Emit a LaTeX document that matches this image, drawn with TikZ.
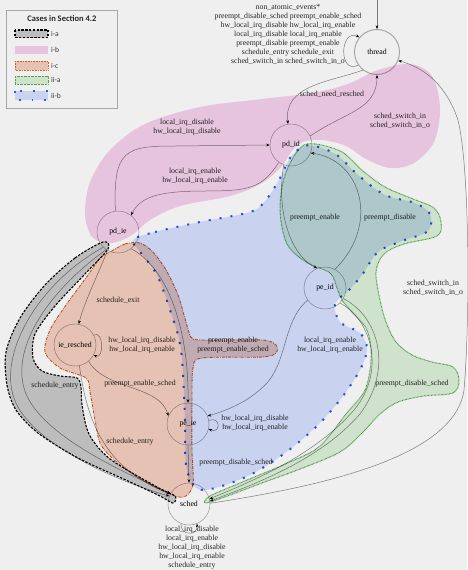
\documentclass[tikz,border=0pt]{standalone}
\usepackage{fontspec}
\setmainfont{Liberation Serif}
\newfontfamily\legfont{Carlito}
\usetikzlibrary{arrows.meta}
\definecolor{bgc}{HTML}{EFEFEF}
\definecolor{pinkM}{HTML}{F7D2EC}
\definecolor{grayM}{HTML}{CACACA}
\definecolor{orangeM}{HTML}{F5D0BF}
\definecolor{greenM}{HTML}{DDF2D9}
\definecolor{blueM}{HTML}{D7E1FF}
\definecolor{pinkL}{HTML}{E8C5DD}
\definecolor{grayL}{HTML}{BDBDBD}
\definecolor{orangeL}{HTML}{E5C3B3}
\definecolor{greenL}{HTML}{CFE3CB}
\definecolor{blueL}{HTML}{CAD3EF}
\definecolor{orangeB}{HTML}{D2642E}
\definecolor{greenB}{HTML}{4FA64A}
\definecolor{blueB}{HTML}{2A5CEB}
\definecolor{edgec}{HTML}{7A7A7A}
\begin{document}
\begin{tikzpicture}[x=1pt,y=-1pt,
  st/.style={circle, draw=edgec!80, line width=0.5pt, minimum size=42pt, inner sep=0pt, font=\fontsize{7.8}{9}\selectfont},
  tr/.style={draw=edgec, line width=0.5pt, -{Stealth[length=3.6pt,width=2.8pt,black]}},
  lab/.style={font=\fontsize{7.8}{9}\selectfont, align=center, inner sep=0pt, text=black!85},
  regA/.style={fill=grayM, draw=black, line width=1.1pt, dash pattern=on 2.4pt off 1.4pt},
  regB/.style={fill=pinkM},
  regC/.style={fill=orangeM, draw=orangeB, line width=0.9pt, dash pattern=on 3pt off 1.2pt on 0.8pt off 1.2pt},
  regD/.style={fill=greenM, draw=greenB, line width=1pt, dash pattern=on 0.7pt off 0.7pt},
  regE/.style={fill=blueM, draw=blueB, line width=2pt, dash pattern=on 2pt off 9pt},
  legtxt/.style={font=\legfont\fontsize{7.5}{9}\selectfont, anchor=west, inner sep=0pt, text=black!80}
]
\fill[bgc] (0,0) rectangle (467,570);
\useasboundingbox (0,0) rectangle (467,570);

% states
\node[st, minimum size=45pt, line width=1pt, draw=gray!70] (thread) at (377,52) {thread};
\node[st] (pd_id) at (291,145) {pd\_id};
\node[st] (pd_ie) at (118,232) {pd\_ie};
\node[st] (pe_id) at (325,288) {pe\_id};
\node[st] (ie_resched) at (75,345) {ie\_resched};
\node[st] (pe_ie) at (188,424) {pe\_ie};
\node[st] (sched) at (189,504) {sched};
\coordinate (init) at (377,0);

% edges
\draw[tr] (init) -- (thread);
\draw[tr] (thread.215) .. controls (338,75) and (340,28) .. (thread.140);
\draw[tr] (thread.232) .. controls (330,82) and (283,85) .. (pd_id.98);
\draw[tr] (pd_id.25) .. controls (345,112) and (377,110) .. (thread.south);
\draw[tr] (pd_ie.97) .. controls (113,150) and (125,146) .. (175,146) -- (pd_id.west);
\draw[tr] (pd_id.235) .. controls (262,188) and (250,191) .. (205,191) .. controls (155,191) and (140,198) .. (pd_ie.52);
\draw[tr] (pd_id.250) .. controls (276,210) and (290,255) .. (pe_id.112);
\draw[tr] (pe_id.62) .. controls (380,225) and (362,160) .. (pd_id.-22);
\draw[tr] (pd_ie.240) .. controls (98,275) and (85,300) .. (ie_resched.80);
\draw[tr] (ie_resched.28) .. controls (104,330) and (104,360) .. (ie_resched.-28);
\draw[tr] (ie_resched.-50) .. controls (105,390) and (160,385) .. (pe_ie.158);
\draw[tr] (ie_resched.-78) .. controls (88,430) and (110,470) .. (sched.152);
\draw[tr] (pd_ie.-52) .. controls (168,268) and (189,330) .. (pe_ie.north);
\draw[tr] (pe_ie.south) -- (sched.north);
\draw[tr] (pe_ie.10) .. controls (221,416) and (221,434) .. (pe_ie.-14);
\draw[tr] (pe_id.215) .. controls (282,322) and (288,362) .. (265,385) .. controls (248,402) and (228,410) .. (pe_ie.22);
\draw[tr] (pe_id.-30) .. controls (378,316) and (394,368) .. (360,414) .. controls (320,460) and (255,484) .. (sched.8);
\draw[tr] (pe_id.-45) .. controls (372,320) and (386,372) .. (354,410) .. controls (315,455) and (255,480) .. (sched.14);
\draw[tr] (sched.2) .. controls (330,485) and (455,455) .. (464,390) .. controls (470,320) and (470,170) .. (458,120) .. controls (446,85) and (425,68) .. (thread.-22);
\draw[tr] (pd_ie.226) .. controls (40,282) and (0,350) .. (13,395) .. controls (25,440) and (112,480) .. (sched.158);
\draw[tr] (pd_ie.236) .. controls (50,290) and (12,345) .. (24,388) .. controls (36,432) and (118,470) .. (sched.150);
\draw[tr] (sched.-112) .. controls (180,536) and (198,536) .. (sched.-68);

% labels
\node[lab] (l_top) at (288,34) {non\_atomic\_events*\\preempt\_disable\_sched preempt\_enable\_sched\\hw\_local\_irq\_disable hw\_local\_irq\_enable\\local\_irq\_disable local\_irq\_enable\\preempt\_disable preempt\_enable\\schedule\_entry schedule\_exit\\sched\_switch\_in sched\_switch\_in\_o};
\node[lab] (l_snr) at (332,94) {sched\_need\_resched};
\node[lab] (l_ssi1) at (400,121) {sched\_switch\_in\\sched\_switch\_in\_o};
\node[lab] (l_lid) at (187,127) {local\_irq\_disable\\hw\_local\_irq\_disable};
\node[lab] (l_lie) at (195,176) {local\_irq\_enable\\hw\_local\_irq\_enable};
\node[lab] (l_pe) at (315,218) {preempt\_enable};
\node[lab] (l_pd) at (390,218) {preempt\_disable};
\node[lab] (l_sx) at (118,300) {schedule\_exit};
\node[lab] (l_hw1) at (142,345) {hw\_local\_irq\_disable\\hw\_local\_irq\_enable};
\node[lab] (l_pes) at (233,345) {preempt\_enable\\preempt\_enable\_sched};
\node[lab] (l_lie2) at (330,345) {local\_irq\_enable\\hw\_local\_irq\_enable};
\node[lab] (l_pes2) at (140,384) {preempt\_enable\_sched};
\node[lab] (l_se1) at (55,386) {schedule\_entry};
\node[lab] (l_pds1) at (412,384) {preempt\_disable\_sched};
\node[lab] (l_hw2) at (255,423) {hw\_local\_irq\_disable\\hw\_local\_irq\_enable};
\node[lab] (l_se2) at (130,442) {schedule\_entry};
\node[lab] (l_pds2) at (236,463) {preempt\_disable\_sched};
\node[lab] (l_ssi2) at (433,288) {sched\_switch\_in\\sched\_switch\_in\_o};
\node[lab] (l_bot) at (192,548) {local\_irq\_disable\\local\_irq\_enable\\hw\_local\_irq\_disable\\hw\_local\_irq\_enable\\schedule\_entry};

% regions
\begin{scope}[blend mode=multiply]
\path[regB] plot[smooth cycle, tension=0.55] coordinates {(85,215) (90,182) (110,150) (145,124) (200,107) (262,99) (312,93) (348,84) (378,70) (410,64) (432,76) (440,108) (434,142) (414,163) (390,168) (366,159) (346,146) (322,140) (303,142) (291,152) (282,166) (262,183) (230,196) (180,206) (150,220) (132,235) (112,243) (93,238)};
\path[regA] plot[smooth cycle, tension=0.5] coordinates {(103,242) (75,258) (45,285) (20,318) (6,352) (7,385) (16,410) (38,433) (78,458) (128,481) (160,496) (173,503) (175,496) (157,487) (110,459) (89,434) (82,405) (81,387) (77,378) (60,376) (42,371) (33,358) (35,334) (55,306) (84,275) (108,249)};
\path[regE] plot[smooth cycle, tension=0.55] coordinates {(133,240) (155,232) (200,222) (250,212) (266,200) (280,178) (290,158) (302,147) (315,146) (337,155) (358,175) (385,195) (415,203) (430,214) (428,231) (402,241) (378,252) (362,275) (349,290) (335,304) (340,322) (360,333) (367,348) (361,368) (343,396) (318,425) (285,453) (250,475) (215,488) (196,488) (186,465) (185,420) (181,350) (170,310) (157,275) (141,253)};
\path[regC] plot[smooth cycle, tension=0.5] coordinates {(110,252) (125,244) (140,243) (153,252) (166,270) (178,295) (186,322) (191,337) (202,340) (262,340) (276,345) (276,353) (262,357) (202,358) (193,368) (192,400) (192,450) (193,485) (184,497) (170,494) (148,483) (120,465) (101,445) (95,420) (90,392) (86,378) (60,368) (45,352) (50,330) (66,305) (88,275) (100,258)};
\path[regD] plot[smooth cycle, tension=0.55] coordinates {(300,148) (315,144) (342,152) (363,171) (385,187) (413,199) (434,208) (441,222) (437,236) (404,244) (384,254) (376,272) (380,300) (386,322) (396,342) (412,355) (432,362) (453,367) (459,380) (453,393) (424,396) (398,402) (380,414) (362,433) (340,452) (300,469) (262,483) (222,498) (205,503) (210,496) (240,483) (290,462) (320,446) (346,414) (364,392) (370,370) (371,348) (366,328) (352,312) (342,300) (337,288) (330,273) (306,262) (287,244) (280,210) (285,175)};
\end{scope}

% legend
\draw[gray!70, fill=bgc, line width=0.6pt] (6,10) rectangle (117,108);
\node[font=\legfont\bfseries\fontsize{8.5}{10}\selectfont, text=black!85, inner sep=0pt] (legt) at (62,19) {Cases in Section 4.2};
\path[fill=grayL, draw=black, line width=1.1pt, dash pattern=on 2.4pt off 1.4pt] (15,30) rectangle (48,37.5);
\fill[pinkL] (15,46) rectangle (48,54);
\path[fill=orangeL, draw=orangeB, line width=0.8pt, dash pattern=on 0.8pt off 0.8pt] (15,61) rectangle (48,70);
\path[fill=greenL, draw=greenB, line width=0.8pt, dash pattern=on 0.7pt off 0.7pt] (15,76) rectangle (48,84);
\path[fill=blueL, draw=blueB, line width=1.8pt, dash pattern=on 1.8pt off 11pt] (15,91) rectangle (48,100);
\node[legtxt] (la) at (51,33.8) {i-a};
\node[legtxt] (lb) at (51,50) {i-b};
\node[legtxt] (lc) at (51,65.5) {i-c};
\node[legtxt] (ld) at (51,80) {ii-a};
\node[legtxt] (le) at (51,95.5) {ii-b};
\end{tikzpicture}
\end{document}
